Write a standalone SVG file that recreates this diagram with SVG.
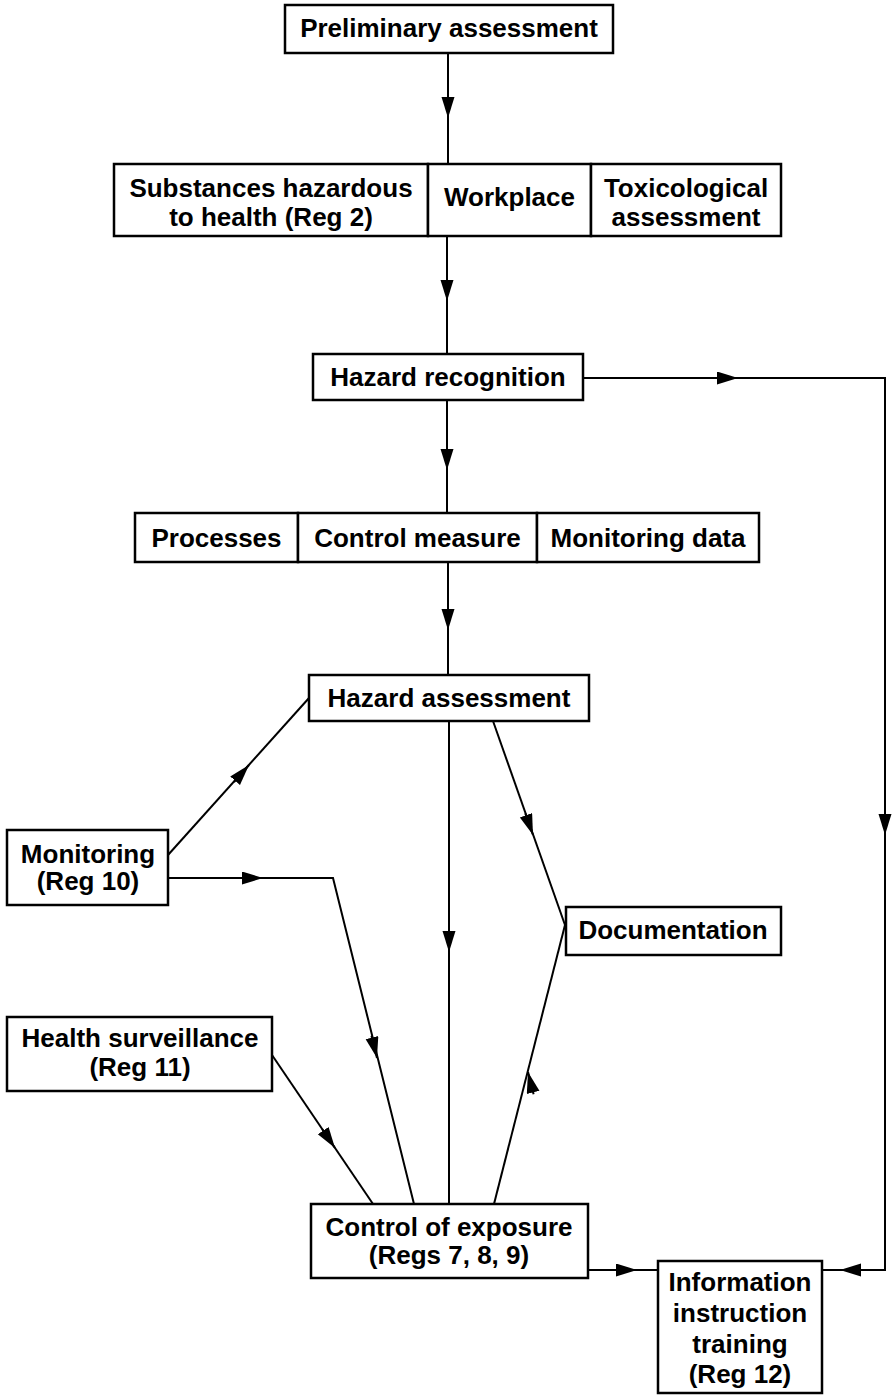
<svg xmlns="http://www.w3.org/2000/svg" width="894" height="1395" viewBox="0 0 894 1395">
<style>
.box{fill:#fff;stroke:#000;stroke-width:2.5}
.t{font-family:"Liberation Sans",Arial,sans-serif;font-weight:bold;font-size:26px;fill:#000;text-anchor:middle}
.ln{fill:none;stroke:#000;stroke-width:2}
.ar{fill:none;stroke:#000;stroke-width:2;marker-end:url(#ah)}
</style>
<defs>
<marker id="ah" markerUnits="userSpaceOnUse" markerWidth="22" markerHeight="14" refX="21" refY="6.5" orient="auto">
<path d="M0,0 L21,6.5 L0,13 Z" fill="#000"/>
</marker>
</defs>
<rect width="894" height="1395" fill="#fff"/>
<g id="connectors">
<path class="ln" d="M448,53 V163"/><path class="ar" d="M448,95 V118"/>
<path class="ln" d="M447,236 V354"/><path class="ar" d="M447,278 V301"/>
<path class="ln" d="M447,400 V513"/><path class="ar" d="M447,447 V470"/>
<path class="ln" d="M448,562 V675"/><path class="ar" d="M448,607 V630"/>
<path class="ln" d="M583,378 H885 V1270 H822"/>
<path class="ar" d="M715,378 H738"/><path class="ar" d="M885,812 V835"/><path class="ar" d="M863,1270 H840"/>
<path class="ln" d="M168,855 L309,698"/><path class="ar" d="M234,782 L249,765"/>
<path class="ln" d="M168,878 H333 L414,1204"/><path class="ar" d="M240,878 H263"/><path class="ar" d="M371.5,1035.7 L377,1058"/>
<path class="ln" d="M449,721 V1204"/><path class="ar" d="M449,929 V952"/>
<path class="ln" d="M493,721 L565,925"/><path class="ar" d="M525.3,813.3 L533,835"/>
<path class="ln" d="M494,1204 L565,925"/><path class="ar" d="M533.6,1094.3 L528,1072"/>
<path class="ln" d="M272,1055 L373,1204"/><path class="ar" d="M322.1,1129 L335,1148"/>
<path class="ln" d="M588,1270 H658"/><path class="ar" d="M614,1270 H637"/>
</g>
<g id="preliminary"><rect class="box" x="285" y="5" width="328" height="48"/><text class="t" x="449" y="37">Preliminary assessment</text></g>
<g id="substances"><rect class="box" x="114" y="164" width="314" height="72"/><text class="t" x="271" y="197">Substances hazardous</text><text class="t" x="271" y="226">to health (Reg 2)</text></g>
<g id="workplace"><rect class="box" x="428" y="164" width="163" height="72"/><text class="t" x="509.5" y="206">Workplace</text></g>
<g id="toxicological"><rect class="box" x="591" y="164" width="190" height="72"/><text class="t" x="686" y="197">Toxicological</text><text class="t" x="686" y="226">assessment</text></g>
<g id="hazard-recognition"><rect class="box" x="313" y="354" width="270" height="46"/><text class="t" x="448" y="386">Hazard recognition</text></g>
<g id="processes"><rect class="box" x="135" y="513" width="163" height="49"/><text class="t" x="216.5" y="547">Processes</text></g>
<g id="control-measure"><rect class="box" x="298" y="513" width="239" height="49"/><text class="t" x="417.5" y="547">Control measure</text></g>
<g id="monitoring-data"><rect class="box" x="537" y="513" width="222" height="49"/><text class="t" x="648" y="547">Monitoring data</text></g>
<g id="hazard-assessment"><rect class="box" x="309" y="675" width="280" height="46"/><text class="t" x="449" y="707">Hazard assessment</text></g>
<g id="monitoring"><rect class="box" x="7" y="830" width="161" height="75"/><text class="t" x="88" y="863">Monitoring</text><text class="t" x="88" y="890">(Reg 10)</text></g>
<g id="documentation"><rect class="box" x="566" y="907" width="215" height="48"/><text class="t" x="673" y="939">Documentation</text></g>
<g id="health-surveillance"><rect class="box" x="7" y="1017" width="265" height="74"/><text class="t" x="140" y="1047">Health surveillance</text><text class="t" x="140" y="1076">(Reg 11)</text></g>
<g id="control-of-exposure"><rect class="box" x="311" y="1204" width="277" height="74"/><text class="t" x="449" y="1236">Control of exposure</text><text class="t" x="449" y="1264">(Regs 7, 8, 9)</text></g>
<g id="information"><rect class="box" x="658" y="1261" width="164" height="132"/><text class="t" x="740" y="1291">Information</text><text class="t" x="740" y="1322">instruction</text><text class="t" x="740" y="1353">training</text><text class="t" x="740" y="1383">(Reg 12)</text></g>
</svg>
